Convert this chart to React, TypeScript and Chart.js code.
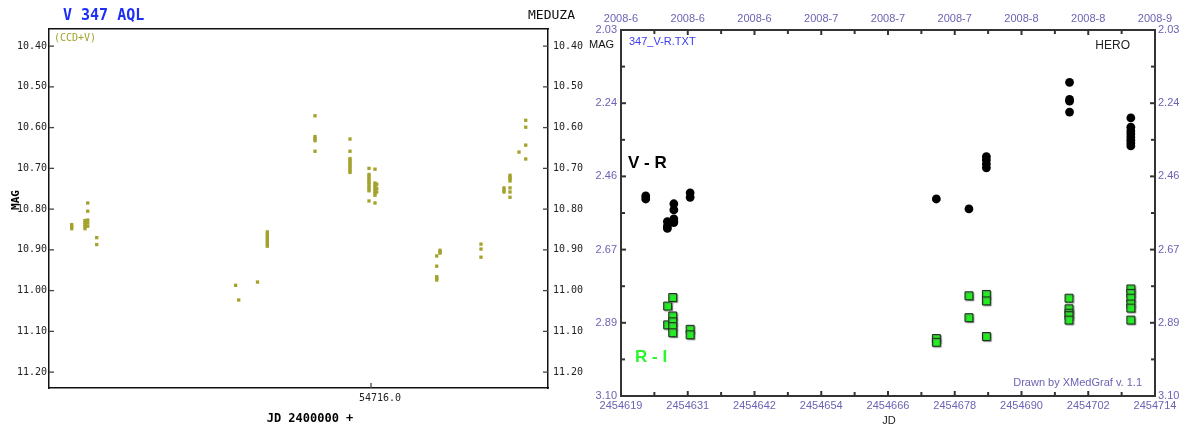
import React, { useEffect, useRef } from 'react';
import { Chart, registerables } from 'chart.js';
Chart.register(...registerables);

// ---------- Left chart (MEDUZA, V band) ----------
const leftNights = [54641.18, 54644.5, 54645.18, 54647.43, 54682.15, 54682.93, 54687.63, 54690.08, 54702.0, 54710.75, 54715.5, 54717.0, 54717.43, 54732.43, 54733.25, 54743.5, 54749.25, 54750.75, 54753.0, 54754.68];
const leftMags = [
  [10.838, 10.843, 10.848],
  [10.828, 10.833, 10.838, 10.843, 10.848],
  [10.785, 10.805, 10.827, 10.834, 10.842],
  [10.870, 10.887],
  [10.987],
  [11.023],
  [10.979],
  [10.856, 10.861, 10.866, 10.871, 10.876, 10.881, 10.886, 10.891],
  [10.571, 10.622, 10.627, 10.632, 10.658],
  [10.628, 10.658, 10.676, 10.681, 10.686, 10.691, 10.696, 10.701, 10.706, 10.710],
  [10.700, 10.715, 10.720, 10.725, 10.730, 10.735, 10.740, 10.745, 10.750, 10.755, 10.780],
  [10.702, 10.736, 10.741, 10.746, 10.751, 10.756, 10.761, 10.766, 10.785],
  [10.739, 10.749, 10.758],
  [10.915, 10.940, 10.966, 10.970, 10.974],
  [10.901, 10.905, 10.908],
  [10.886, 10.898, 10.918],
  [10.748, 10.753, 10.758],
  [10.717, 10.722, 10.726, 10.731, 10.748, 10.758, 10.771],
  [10.660],
  [10.582, 10.599, 10.643, 10.677],
];
const leftXTicks = [54716.0];
const leftYTicks = [10.4, 10.5, 10.6, 10.7, 10.8, 10.9, 11.0, 11.1, 11.2];
const L_X_MIN = 54635.5;
const L_X_MAX = 54760.25;
const L_Y_MIN = 10.358;
const L_Y_MAX = 11.239;

// ---------- Right chart (HERO, colour indices) ----------
const vrNights = [2454623.4, 2454627.25, 2454628.4, 2454631.3, 2454675.1, 2454680.9, 2454684.0, 2454698.8, 2454709.7];
const vrMags = [
  [2.515, 2.524],
  [2.590, 2.603, 2.610],
  [2.538, 2.556, 2.582, 2.588, 2.593],
  [2.506, 2.519],
  [2.524],
  [2.553],
  [2.400, 2.410, 2.422, 2.433],
  [2.183, 2.233, 2.238, 2.270],
  [2.287, 2.314, 2.325, 2.334, 2.343, 2.352, 2.360, 2.369],
];
const riNights = [2454627.3, 2454628.2, 2454631.3, 2454675.1, 2454680.9, 2454684.0, 2454698.7, 2454709.7];
const riMags = [
  [2.837, 2.892],
  [2.812, 2.866, 2.883, 2.897, 2.915],
  [2.905, 2.921],
  [2.932, 2.943],
  [2.807, 2.871],
  [2.803, 2.822, 2.926],
  [2.814, 2.845, 2.858, 2.865, 2.878],
  [2.787, 2.800, 2.814, 2.831, 2.843, 2.878],
];
const bottomTickLabels = ['2454619', '2454631', '2454642', '2454654', '2454666', '2454678', '2454690', '2454702', '2454714'];
const topTickLabels = ['2008-6', '2008-6', '2008-6', '2008-7', '2008-7', '2008-7', '2008-8', '2008-8', '2008-9'];
const rightYTickLabels = ['2.03', '2.24', '2.46', '2.67', '2.89', '3.10'];
const R_X_MIN = 2454619;
const R_X_MAX = 2454714;
const R_Y_MIN = 2.03;
const R_Y_MAX = 3.10;

const MONO = 'DejaVu Sans Mono';
const SANS = 'Liberation Sans';
const OLIVE = '#a3a22c';
const SLATE = '#6b63b3';

function toPoints(nights: number[], mags: number[][]) {
  return nights.flatMap((x, i) => mags[i].map((y) => ({ x, y })));
}

function evenTicks(min: number, max: number, n: number) {
  return Array.from({ length: n + 1 }, (_, i) => ({ value: min + ((max - min) * i) / n }));
}

type TextItem = { text: string; x: number; y: number; font: string; color: string; align?: CanvasTextAlign; rot?: number };

function makeTextPlugin(items: TextItem[]) {
  return {
    id: 'textLayer',
    afterDraw(chart: any) {
      const ctx = chart.ctx;
      for (const t of items) {
        ctx.save();
        ctx.font = t.font;
        ctx.fillStyle = t.color;
        ctx.textAlign = t.align || 'left';
        ctx.textBaseline = 'middle';
        ctx.translate(t.x, t.y);
        if (t.rot) ctx.rotate(t.rot);
        ctx.fillText(t.text, 0, 0);
        ctx.restore();
      }
    },
  };
}

function makeInnerTicks(cfg: { color: string; width: number; major: number; minor: number; alternate: boolean }) {
  return {
    id: 'innerTicks',
    afterDatasetsDraw(chart: any) {
      const { ctx, chartArea: a } = chart;
      ctx.save();
      ctx.strokeStyle = cfg.color;
      ctx.lineWidth = cfg.width;
      Object.values(chart.scales).forEach((s: any) => {
        (s.ticks || []).forEach((t: any, i: number) => {
          const len = !cfg.alternate || i % 2 === 0 ? cfg.major : cfg.minor;
          const p = s.getPixelForValue(t.value);
          ctx.beginPath();
          if (s.position === 'left') { ctx.moveTo(a.left, p); ctx.lineTo(a.left + len, p); }
          else if (s.position === 'right') { ctx.moveTo(a.right, p); ctx.lineTo(a.right - len, p); }
          else if (s.position === 'top') { ctx.moveTo(p, a.top); ctx.lineTo(p, a.top + len); }
          else { ctx.moveTo(p, a.bottom); ctx.lineTo(p, a.bottom - len); }
          ctx.stroke();
        });
      });
      ctx.restore();
    },
  };
}

const shadowPlugin = {
  id: 'markShadow',
  beforeDatasetDraw(chart: any, args: any) {
    const ds = chart.data.datasets[args.index];
    chart.ctx.save();
    if (ds.shadow) {
      chart.ctx.shadowColor = 'rgba(110,110,110,0.75)';
      chart.ctx.shadowOffsetX = 1;
      chart.ctx.shadowOffsetY = 1;
      chart.ctx.shadowBlur = 1;
    }
  },
  afterDatasetDraw(chart: any) {
    chart.ctx.restore();
  },
};

function fixSize(kind: 'w' | 'h', size: number) {
  return (s: any) => {
    if (kind === 'w') s.width = size; else s.height = size;
    s.paddingLeft = 0; s.paddingRight = 0; s.paddingTop = 0; s.paddingBottom = 0;
  };
}

export default function App() {
  const leftRef = useRef<HTMLCanvasElement>(null);
  const rightRef = useRef<HTMLCanvasElement>(null);

  useEffect(() => {
    document.body.style.margin = '0';
    document.body.style.background = '#fff';

    const lBorder = { display: true, color: '#111', width: 1.5 };
    const lTickFont = { family: MONO, size: 10 };
    const left = new Chart(leftRef.current as HTMLCanvasElement, {
      type: 'scatter',
      data: {
        datasets: [{
          data: toPoints(leftNights, leftMags),
          pointStyle: 'rect',
          pointRadius: 2.35,
          backgroundColor: OLIVE,
          borderWidth: 0,
          xAxisID: 'x',
          yAxisID: 'y',
        } as any],
      },
      options: {
        animation: false,
        responsive: false,
        devicePixelRatio: 1,
        events: [],
        layout: { padding: 0 },
        plugins: { legend: { display: false }, tooltip: { enabled: false } },
        scales: {
          x: {
            type: 'linear', position: 'bottom', min: L_X_MIN, max: L_X_MAX,
            afterBuildTicks: (s: any) => { s.ticks = leftXTicks.map((v) => ({ value: v })); },
            afterFit: fixSize('h', 37),
            grid: { display: false, drawTicks: false },
            border: lBorder,
            ticks: { callback: (v: any) => Number(v).toFixed(1), font: lTickFont, color: '#222', padding: 4, labelOffset: 9, maxRotation: 0, minRotation: 0, autoSkip: false },
          },
          x2: {
            type: 'linear', position: 'top', min: L_X_MIN, max: L_X_MAX,
            afterBuildTicks: (s: any) => { s.ticks = []; },
            afterFit: fixSize('h', 29),
            grid: { display: false, drawTicks: false },
            border: lBorder,
            ticks: { display: false },
          },
          y: {
            type: 'linear', position: 'left', reverse: true, min: L_Y_MIN, max: L_Y_MAX,
            afterBuildTicks: (s: any) => { s.ticks = leftYTicks.map((v) => ({ value: v })); },
            afterFit: fixSize('w', 49),
            grid: { display: false, drawTicks: false },
            border: lBorder,
            ticks: { callback: (v: any) => Number(v).toFixed(2), font: lTickFont, color: '#222', padding: 2, autoSkip: false },
          },
          y2: {
            type: 'linear', position: 'right', reverse: true, min: L_Y_MIN, max: L_Y_MAX,
            afterBuildTicks: (s: any) => { s.ticks = leftYTicks.map((v) => ({ value: v })); },
            afterFit: fixSize('w', 40),
            grid: { display: false, drawTicks: false },
            border: lBorder,
            ticks: { callback: (v: any) => Number(v).toFixed(2), font: lTickFont, color: '#222', padding: 5, autoSkip: false },
          },
        } as any,
      },
      plugins: [
        shadowPlugin,
        makeInnerTicks({ color: '#444', width: 1.3, major: 5, minor: 5, alternate: false }),
        makeTextPlugin([
          { text: 'V 347 AQL', x: 63, y: 16, font: `bold 15px "${MONO}"`, color: '#1d2ff5' },
          { text: 'MEDUZA', x: 575, y: 16, font: `13px "${MONO}"`, color: '#111', align: 'right' },
          { text: '(CCD+V)', x: 54, y: 38, font: `10px "${MONO}"`, color: OLIVE },
          { text: 'MAG', x: 16, y: 200, font: `bold 11px "${MONO}"`, color: '#000', align: 'center', rot: -Math.PI / 2 },
          { text: 'JD 2400000 +', x: 310, y: 419, font: `bold 12px "${MONO}"`, color: '#000', align: 'center' },
        ]),
      ],
    });

    const rBorder = { display: true, color: '#333', width: 2 };
    const rTickFont = { family: SANS, size: 11 };
    const xTicks = (s: any) => { s.ticks = evenTicks(R_X_MIN, R_X_MAX, 16); };
    const yTicks = (s: any) => { s.ticks = evenTicks(R_Y_MIN, R_Y_MAX, 10); };
    const yLabel = (_v: any, i: number) => (i % 2 === 0 ? rightYTickLabels[i / 2] : '');
    const right = new Chart(rightRef.current as HTMLCanvasElement, {
      type: 'scatter',
      data: {
        datasets: [
          {
            label: 'V - R',
            data: toPoints(vrNights, vrMags),
            pointStyle: 'circle',
            pointRadius: 4.4,
            backgroundColor: '#000',
            borderWidth: 0,
            xAxisID: 'x',
            yAxisID: 'y',
          } as any,
          {
            label: 'R - I',
            data: toPoints(riNights, riMags),
            pointStyle: 'rect',
            pointRadius: 5.6,
            backgroundColor: '#22ee22',
            borderColor: '#143214',
            borderWidth: 1,
            shadow: true,
            xAxisID: 'x',
            yAxisID: 'y',
          } as any,
        ],
      },
      options: {
        animation: false,
        responsive: false,
        devicePixelRatio: 1,
        events: [],
        layout: { padding: 0 },
        plugins: { legend: { display: false }, tooltip: { enabled: false } },
        scales: {
          x: {
            type: 'linear', position: 'bottom', min: R_X_MIN, max: R_X_MAX,
            afterBuildTicks: xTicks,
            afterFit: fixSize('h', 29),
            grid: { display: false, drawTicks: false },
            border: rBorder,
            ticks: { callback: (_v: any, i: number) => (i % 2 === 0 ? bottomTickLabels[i / 2] : ''), font: rTickFont, color: SLATE, padding: 3, maxRotation: 0, minRotation: 0, autoSkip: false },
          },
          x2: {
            type: 'linear', position: 'top', min: R_X_MIN, max: R_X_MAX,
            afterBuildTicks: xTicks,
            afterFit: fixSize('h', 30),
            grid: { display: false, drawTicks: false },
            border: rBorder,
            ticks: { callback: (_v: any, i: number) => (i % 2 === 0 ? topTickLabels[i / 2] : ''), font: rTickFont, color: SLATE, padding: 4, maxRotation: 0, minRotation: 0, autoSkip: false },
          },
          y: {
            type: 'linear', position: 'left', reverse: true, min: R_Y_MIN, max: R_Y_MAX,
            afterBuildTicks: yTicks,
            afterFit: fixSize('w', 33),
            grid: { display: false, drawTicks: false },
            border: rBorder,
            ticks: { callback: yLabel, font: rTickFont, color: SLATE, padding: 4, autoSkip: false },
          },
          y2: {
            type: 'linear', position: 'right', reverse: true, min: R_Y_MIN, max: R_Y_MAX,
            afterBuildTicks: yTicks,
            afterFit: fixSize('w', 26),
            grid: { display: false, drawTicks: false },
            border: rBorder,
            ticks: { callback: yLabel, font: rTickFont, color: SLATE, padding: 3, autoSkip: false },
          },
        } as any,
      },
      plugins: [
        shadowPlugin,
        makeInnerTicks({ color: '#333', width: 2, major: 5, minor: 4, alternate: true }),
        makeTextPlugin([
          { text: 'MAG', x: 1, y: 45, font: `11px "${SANS}"`, color: '#111' },
          { text: '347_V-R.TXT', x: 41, y: 42, font: `11px "${SANS}"`, color: '#3c3cf0' },
          { text: 'HERO', x: 542, y: 46, font: `12px "${SANS}"`, color: '#222', align: 'right' },
          { text: 'V - R', x: 40, y: 163, font: `bold 17px "${SANS}"`, color: '#000' },
          { text: 'R - I', x: 47, y: 357, font: `bold 17px "${SANS}"`, color: '#2cf52c' },
          { text: 'Drawn by XMedGraf v. 1.1', x: 554, y: 383, font: `11px "${SANS}"`, color: SLATE, align: 'right' },
          { text: 'JD', x: 301, y: 421, font: `11px "${SANS}"`, color: '#222', align: 'center' },
        ]),
      ],
    });

    return () => {
      left.destroy();
      right.destroy();
    };
  }, []);

  return (
    <div style={{ position: 'relative', width: 1181, height: 425, background: '#fff' }}>
      <canvas ref={leftRef} width={588} height={425} style={{ position: 'absolute', left: 0, top: 0, width: 588, height: 425 }} />
      <canvas ref={rightRef} width={593} height={425} style={{ position: 'absolute', left: 588, top: 0, width: 593, height: 425 }} />
    </div>
  );
}
